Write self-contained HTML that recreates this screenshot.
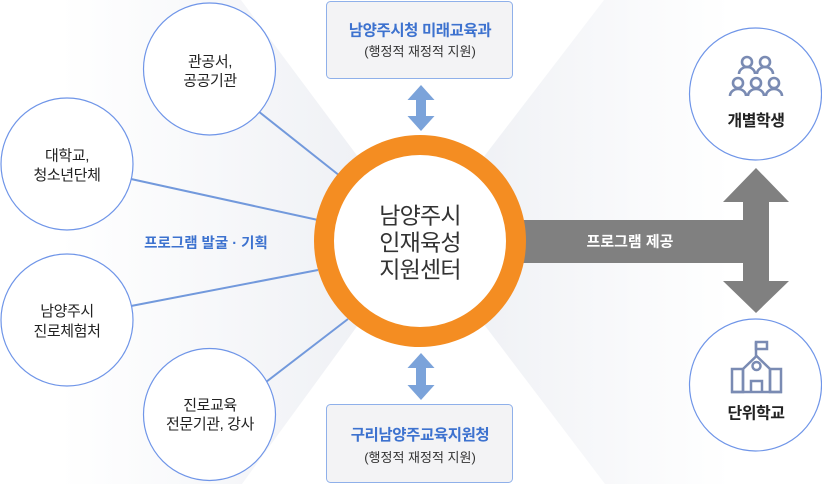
<!DOCTYPE html>
<html>
<head>
<meta charset="utf-8">
<style>
  html,body{margin:0;padding:0;background:#fff;}
  svg{display:block;}
  text{font-family:"Liberation Sans","Noto Sans CJK KR",sans-serif;}
</style>
</head>
<body>
<svg width="822" height="484" viewBox="0 0 822 484" xmlns="http://www.w3.org/2000/svg">
  <defs>
    <linearGradient id="gl" gradientUnits="userSpaceOnUse" x1="420" y1="0" x2="60" y2="0">
      <stop offset="0" stop-color="#eceef3"/>
      <stop offset="1" stop-color="#ffffff"/>
    </linearGradient>
    <linearGradient id="gr" gradientUnits="userSpaceOnUse" x1="420" y1="0" x2="730" y2="0">
      <stop offset="0" stop-color="#eceef3"/>
      <stop offset="1" stop-color="#ffffff"/>
    </linearGradient>
  </defs>

  <!-- background fans -->
  <polygon points="420,240 241,0 0,0 0,484 242,484" fill="url(#gl)"/>
  <polygon points="420,240 604,0 822,0 822,484 605,484" fill="url(#gr)"/>

  <!-- connector lines -->
  <g stroke="#7299dc" stroke-width="2" fill="none">
    <line x1="258" y1="111" x2="340" y2="176"/>
    <line x1="131" y1="179" x2="318" y2="220"/>
    <line x1="131" y1="306" x2="318" y2="270"/>
    <line x1="266" y1="382" x2="348" y2="319"/>
  </g>

  <!-- gray program arrow -->
  <g fill="#808080">
    <rect x="500" y="220" width="269" height="43"/>
    <rect x="743" y="200" width="26" height="83"/>
    <polygon points="723,202 789,202 756,168"/>
    <polygon points="723,281 789,281 756,313"/>
  </g>
  <text x="630" y="246.5" text-anchor="middle" font-size="15" font-weight="bold" fill="#ffffff">프로그램 제공</text>

  <!-- center circle -->
  <circle cx="420" cy="241" r="96" fill="#ffffff" stroke="#f48d22" stroke-width="20"/>
  <g font-size="23" fill="#333" text-anchor="middle" letter-spacing="-0.8">
    <text x="420" y="223.5">남양주시</text>
    <text x="420" y="250.5">인재육성</text>
    <text x="420" y="277.5">지원센터</text>
  </g>

  <!-- top box -->
  <rect x="326.5" y="1.5" width="186" height="77" rx="4" fill="#f3f3f5" stroke="#8fb0ea" stroke-width="1"/>
  <text x="420" y="35.5" text-anchor="middle" font-size="15.5" font-weight="bold" fill="#3d72cf" letter-spacing="-0.4">남양주시청 미래교육과</text>
  <text x="420" y="56" text-anchor="middle" font-size="13" fill="#333">(행정적 재정적 지원)</text>

  <!-- bottom box -->
  <rect x="326.5" y="404.5" width="186" height="78" rx="4" fill="#f3f3f5" stroke="#8fb0ea" stroke-width="1"/>
  <text x="420" y="440" text-anchor="middle" font-size="15.5" font-weight="bold" fill="#3d72cf" letter-spacing="-0.4">구리남양주교육지원청</text>
  <text x="420" y="462" text-anchor="middle" font-size="13" fill="#333">(행정적 재정적 지원)</text>

  <!-- double arrows -->
  <g fill="#7ba3da">
    <polygon points="421,85 434.5,100 426,100 426,116 434.5,116 421,131 407.5,116 416,116 416,100 407.5,100"/>
    <polygon points="421,353 434.5,368 426,368 426,385 434.5,385 421,400 407.5,385 416,385 416,368 407.5,368"/>
  </g>

  <!-- circles -->
  <g fill="#ffffff" stroke="#6f95e8" stroke-width="1.2">
    <circle cx="209.5" cy="69" r="66"/>
    <circle cx="67" cy="164" r="66"/>
    <circle cx="67" cy="320" r="66"/>
    <circle cx="209.5" cy="414.5" r="66"/>
    <circle cx="755.5" cy="94" r="66"/>
    <circle cx="755.5" cy="385" r="66"/>
  </g>
  <g font-size="15" fill="#222" text-anchor="middle" letter-spacing="-0.4">
    <text x="210" y="66.5">관공서,</text>
    <text x="210" y="85.5">공공기관</text>
    <text x="67" y="160.5">대학교,</text>
    <text x="67" y="180">청소년단체</text>
    <text x="67" y="316">남양주시</text>
    <text x="67" y="336">진로체험처</text>
    <text x="210" y="410">진로교육</text>
    <text x="210" y="429">전문기관, 강사</text>
  </g>

  <text x="206" y="248" text-anchor="middle" font-size="14.5" font-weight="bold" fill="#3d72cf">프로그램 발굴 · 기획</text>

  <!-- people icon -->
  <g fill="none" stroke="#7a8bb3" stroke-width="2.6">
    <circle cx="747" cy="62" r="5"/>
    <circle cx="765" cy="62" r="5"/>
    <path d="M739,74 a8,7 0 0 1 16,0"/>
    <path d="M757,74 a8,7 0 0 1 16,0"/>
    <circle cx="738" cy="83" r="5"/>
    <circle cx="756" cy="83" r="5"/>
    <circle cx="774" cy="83" r="5"/>
    <path d="M730,96 a8,7 0 0 1 16,0"/>
    <path d="M748,96 a8,7 0 0 1 16,0"/>
    <path d="M766,96 a8,7 0 0 1 16,0"/>
  </g>
  <text x="756" y="126" text-anchor="middle" font-size="16" font-weight="bold" fill="#222" letter-spacing="-0.5">개별학생</text>

  <!-- school icon -->
  <g fill="none" stroke="#7a8bb3" stroke-width="2.5" stroke-linejoin="miter">
    <line x1="756" y1="342" x2="756" y2="356"/>
    <rect x="756" y="342" width="11" height="7"/>
    <path d="M743,392 V369 L756.5,356 L770,369 V392"/>
    <circle cx="756.5" cy="366" r="4"/>
    <rect x="732" y="369" width="11" height="23"/>
    <rect x="770" y="369" width="11" height="23"/>
    <path d="M751,392 V381 H762 V392"/>
    <line x1="731" y1="392" x2="782" y2="392"/>
  </g>
  <text x="756" y="418.5" text-anchor="middle" font-size="16" font-weight="bold" fill="#222" letter-spacing="-0.5">단위학교</text>
</svg>
</body>
</html>
